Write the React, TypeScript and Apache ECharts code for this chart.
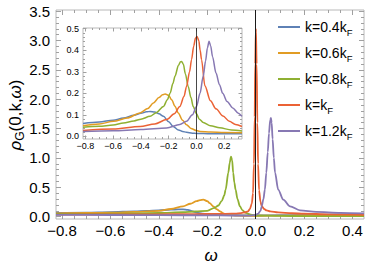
import React, { useEffect, useRef } from 'react';
import * as echarts from 'echarts';

const seriesNames = ['k=0.4kF', 'k=0.6kF', 'k=0.8kF', 'k=kF', 'k=1.2kF'];
const colors = ['#5E81B5', '#E19C24', '#8FB032', '#EB6235', '#8778B3'];

// ---- main plot data ----
const mainBlueX = [-0.8248, -0.7, -0.6, -0.5, -0.45, -0.4, -0.35, -0.32, -0.3, -0.28, -0.26, -0.244, -0.22, -0.2, -0.15, -0.1, -0.05, 0, 0.1, 0.2, 0.3, 0.4475];
const mainBlueY = [0.062, 0.07, 0.078, 0.09, 0.1, 0.108, 0.118, 0.123, 0.124, 0.115, 0.09, 0.068, 0.05, 0.04, 0.03, 0.025, 0.022, 0.02, 0.025, 0.03, 0.035, 0.04];

const mainOrangeX = [-0.8248, -0.7, -0.6, -0.5, -0.4, -0.35, -0.3, -0.27, -0.244, -0.23, -0.216, -0.2, -0.19, -0.175, -0.16, -0.147, -0.135, -0.125, -0.106, -0.08, -0.05, 0, 0.1, 0.2, 0.3, 0.4475];
const mainOrangeY = [0.055, 0.062, 0.068, 0.08, 0.1, 0.13, 0.176, 0.22, 0.265, 0.283, 0.29, 0.265, 0.23, 0.176, 0.125, 0.09, 0.06, 0.042, 0.025, 0.018, 0.015, 0.015, 0.018, 0.02, 0.022, 0.025];

const mainGreenX = [-0.8248, -0.7, -0.6, -0.5, -0.4, -0.3, -0.25, -0.2, -0.17, -0.154, -0.14, -0.13, -0.124, -0.113, -0.107, -0.102, -0.097, -0.093, -0.088, -0.083, -0.075, -0.065, -0.055, -0.041, -0.02, 0, 0.1, 0.2, 0.3, 0.4475];
const mainGreenY = [0.045, 0.048, 0.05, 0.055, 0.062, 0.075, 0.088, 0.1, 0.15, 0.19, 0.27, 0.36, 0.46, 0.75, 0.92, 1.02, 0.96, 0.75, 0.58, 0.46, 0.3, 0.176, 0.11, 0.063, 0.032, 0.02, 0.012, 0.01, 0.01, 0.01];

const mainRedX = [-0.8248, -0.6, -0.4, -0.3, -0.2, -0.15, -0.1, -0.085, -0.06, -0.045, -0.032, -0.024, -0.016, -0.011, -0.007, -0.004, -0.002, 0.001, 0.004, 0.007, 0.01, 0.014, 0.02, 0.025, 0.035, 0.045, 0.06, 0.093, 0.15, 0.2, 0.3, 0.4475];
const mainRedY = [0.035, 0.037, 0.04, 0.042, 0.045, 0.048, 0.05, 0.052, 0.06, 0.075, 0.09, 0.13, 0.22, 0.4, 0.9, 1.7, 2.6, 3.2, 2.6, 1.6, 0.9, 0.45, 0.25, 0.18, 0.13, 0.107, 0.09, 0.073, 0.058, 0.05, 0.04, 0.032];

const mainPurpleX = [-0.8248, -0.6, -0.4, -0.2, -0.1, -0.03, 0, 0.01, 0.02, 0.025, 0.032, 0.038, 0.044, 0.05, 0.055, 0.06, 0.063, 0.066, 0.07, 0.075, 0.08, 0.093, 0.114, 0.142, 0.183, 0.25, 0.35, 0.4475];
const mainPurpleY = [0.03, 0.028, 0.025, 0.022, 0.02, 0.017, 0.03, 0.05, 0.1, 0.176, 0.3, 0.46, 0.75, 1.1, 1.42, 1.65, 1.68, 1.6, 1.32, 1.0, 0.75, 0.46, 0.29, 0.176, 0.107, 0.08, 0.065, 0.055];

// ---- inset data ----
const insetBlueX = [-0.8165, -0.7, -0.6, -0.526, -0.45, -0.4, -0.36, -0.334, -0.3, -0.27, -0.238, -0.2, -0.168, -0.13, -0.1, -0.072, -0.03, 0, 0.1, 0.2, 0.327];
const insetBlueY = [0.06, 0.067, 0.075, 0.085, 0.098, 0.107, 0.114, 0.116, 0.113, 0.105, 0.093, 0.068, 0.046, 0.03, 0.023, 0.019, 0.015, 0.014, 0.012, 0.012, 0.012];

const insetOrangeX = [-0.8165, -0.7, -0.597, -0.5, -0.406, -0.35, -0.31, -0.27, -0.245, -0.226, -0.2, -0.179, -0.155, -0.132, -0.1, -0.072, -0.04, 0, 0.024, 0.1, 0.2, 0.327];
const insetOrangeY = [0.05, 0.058, 0.07, 0.085, 0.109, 0.13, 0.155, 0.18, 0.193, 0.197, 0.19, 0.17, 0.14, 0.109, 0.075, 0.054, 0.037, 0.027, 0.023, 0.02, 0.018, 0.017];

const insetGreenX = [-0.8165, -0.7, -0.6, -0.526, -0.45, -0.4, -0.334, -0.29, -0.238, -0.21, -0.19, -0.17, -0.155, -0.13, -0.115, -0.107, -0.095, -0.08, -0.06, -0.04, -0.024, 0, 0.02, 0.048, 0.1, 0.167, 0.25, 0.327];
const insetGreenY = [0.042, 0.047, 0.053, 0.062, 0.072, 0.08, 0.093, 0.11, 0.139, 0.17, 0.2, 0.245, 0.279, 0.33, 0.346, 0.348, 0.335, 0.29, 0.232, 0.18, 0.139, 0.105, 0.08, 0.065, 0.05, 0.04, 0.03, 0.025];

const insetRedX = [-0.8165, -0.6, -0.406, -0.3, -0.215, -0.16, -0.12, -0.09, -0.072, -0.05, -0.036, -0.02, -0.008, 0.004, 0.016, 0.026, 0.036, 0.06, 0.1, 0.14, 0.19, 0.236, 0.28, 0.327];
const insetRedY = [0.028, 0.034, 0.046, 0.058, 0.078, 0.105, 0.139, 0.185, 0.232, 0.3, 0.356, 0.42, 0.455, 0.464, 0.445, 0.4, 0.356, 0.235, 0.165, 0.128, 0.095, 0.07, 0.055, 0.046];

const insetPurpleX = [-0.8165, -0.6, -0.4, -0.215, -0.12, -0.072, -0.03, 0, 0.025, 0.048, 0.065, 0.078, 0.09, 0.102, 0.115, 0.14, 0.165, 0.188, 0.22, 0.26, 0.3, 0.327];
const insetPurpleY = [0.023, 0.026, 0.032, 0.039, 0.055, 0.07, 0.1, 0.139, 0.2, 0.279, 0.35, 0.41, 0.441, 0.42, 0.37, 0.294, 0.24, 0.2, 0.162, 0.132, 0.108, 0.093];

// ---- ticks ----
const mainXTicks = [-0.8, -0.6, -0.4, -0.2, 0, 0.2, 0.4];
const mainYTicks = [0, 0.5, 1, 1.5, 2, 2.5, 3, 3.5];
const insetXTicks = [-0.8, -0.6, -0.4, -0.2, 0, 0.2];
const insetYTicks = [0, 0.1, 0.2, 0.3, 0.4, 0.5];

const FONT = 'Liberation Sans';
const FRAME = '#b8b8b8';
const TICK = '#a0a0a0';

function steps(a: number, b: number, step: number) {
  const out: number[] = [];
  const n = Math.round((b - a) / step);
  for (let i = 0; i <= n; i++) out.push(+(a + i * step).toFixed(4));
  return out;
}

function fmt(v: number) {
  return (v < -1e-9 ? '\u2212' : '') + Math.abs(v).toFixed(1);
}

function xAxesFor(grid: number, min: number, max: number, ticks: number[], len: number, labels: boolean, fontSize: number, margin: number) {
  const base: any = { type: 'value', gridIndex: grid, min, max, axisLine: { show: false, onZero: false }, splitLine: { show: false } };
  const tick = { show: true, inside: true, length: len, lineStyle: { color: TICK, width: 1 }, customValues: ticks };
  return [
    { ...base, position: 'bottom', axisTick: tick, axisLabel: labels ? { show: true, customValues: ticks, formatter: fmt, fontSize, color: '#000', fontFamily: FONT, margin } : { show: false } },
    { ...base, position: 'top', axisTick: tick, axisLabel: { show: false } },
  ];
}
function yAxesFor(grid: number, min: number, max: number, ticks: number[], len: number, labels: boolean, fontSize: number, margin: number) {
  const base: any = { type: 'value', gridIndex: grid, min, max, axisLine: { show: false, onZero: false }, splitLine: { show: false } };
  const tick = { show: true, inside: true, length: len, lineStyle: { color: TICK, width: 1 }, customValues: ticks };
  return [
    { ...base, position: 'left', axisTick: tick, axisLabel: labels ? { show: true, customValues: ticks, formatter: fmt, fontSize, color: '#000', fontFamily: FONT, margin } : { show: false } },
    { ...base, position: 'right', axisTick: tick, axisLabel: { show: false } },
  ];
}

const MX = [-0.8248, 0.4475];
const MY = [-0.04, 3.52];
const IX = [-0.8165, 0.327];
const IY = [-0.012, 0.503];

export default function App() {
  const ref = useRef<HTMLDivElement>(null);
  useEffect(() => {
    if (!ref.current) return;
    const chart = echarts.init(ref.current, undefined, { renderer: 'svg' });
    const mainGrid = { left: 56, top: 10, width: 308, height: 209 };
    const insetGrid = { left: 83, top: 28, width: 159, height: 111 };
    const grid = [
      { ...mainGrid, show: true, borderColor: FRAME, borderWidth: 1, backgroundColor: 'transparent' },
      { ...mainGrid, show: false },
      { ...insetGrid, show: true, borderColor: FRAME, borderWidth: 1, backgroundColor: '#fff' },
      { ...insetGrid, show: false },
    ];
    const xAxis = [
      ...xAxesFor(0, MX[0], MX[1], mainXTicks, 5, true, 15, 4),
      ...xAxesFor(1, MX[0], MX[1], steps(-0.8, 0.4, 0.05), 3, false, 15, 4),
      ...xAxesFor(2, IX[0], IX[1], insetXTicks, 3.5, true, 9, 2),
      ...xAxesFor(3, IX[0], IX[1], steps(-0.8, 0.3, 0.05), 2, false, 9, 2),
    ];
    const yAxis = [
      ...yAxesFor(0, MY[0], MY[1], mainYTicks, 5, true, 15, 6),
      ...yAxesFor(1, MY[0], MY[1], steps(0, 3.5, 0.1), 3, false, 15, 6),
      ...yAxesFor(2, IY[0], IY[1], insetYTicks, 3.5, true, 9, 4),
      ...yAxesFor(3, IY[0], IY[1], steps(0, 0.5, 0.02), 2, false, 9, 4),
    ];
    const mainSets = [
      [mainBlueX, mainBlueY], [mainOrangeX, mainOrangeY], [mainGreenX, mainGreenY], [mainRedX, mainRedY], [mainPurpleX, mainPurpleY],
    ];
    const insetSets = [
      [insetBlueX, insetBlueY], [insetOrangeX, insetOrangeY], [insetGreenX, insetGreenY], [insetRedX, insetRedY], [insetPurpleX, insetPurpleY],
    ];
    const vline = (w: number) => ({
      silent: true, symbol: 'none', label: { show: false },
      lineStyle: { color: '#1a1a1a', width: w, type: 'solid' },
      data: [{ xAxis: 0 }],
    });
    const series: any[] = [];
    mainSets.forEach(([xs, ys], i) => {
      series.push({
        type: 'line', name: seriesNames[i], xAxisIndex: 0, yAxisIndex: 0,
        data: xs.map((x, j) => [x, ys[j]]),
        symbol: 'none', showSymbol: false, smooth: 0.3, smoothMonotone: 'x',
        lineStyle: { color: colors[i], width: 1.8 }, itemStyle: { color: colors[i] },
        ...(i === 0 ? { markLine: vline(1) } : {}),
      });
    });
    insetSets.forEach(([xs, ys], i) => {
      series.push({
        type: 'line', name: seriesNames[i], xAxisIndex: 4, yAxisIndex: 4,
        data: xs.map((x, j) => [x, ys[j]]),
        symbol: 'none', showSymbol: false, smooth: 0.3, smoothMonotone: 'x',
        lineStyle: { color: colors[i], width: 1.5 }, itemStyle: { color: colors[i] },
        ...(i === 0 ? { markLine: vline(0.8) } : {}),
      });
    });
    chart.setOption({
      animation: false,
      grid, xAxis, yAxis, series,
      legend: {
        orient: 'vertical', left: 278, top: 20, padding: 0,
        icon: 'rect', itemWidth: 22, itemHeight: 2, itemGap: 9,
        data: seriesNames,
        formatter: (name: string) => `{a|${name.slice(0, -1)}}{b|F}`,
        textStyle: {
          color: '#000', fontFamily: FONT, fontSize: 14,
          rich: {
            a: { fontSize: 14, lineHeight: 20, fontFamily: FONT, color: '#000' },
            b: { fontSize: 9.5, lineHeight: 13, verticalAlign: 'bottom', fontFamily: FONT, color: '#000' },
          },
        },
      },
      graphic: [
        {
          type: 'text', x: 15, y: 115, rotation: Math.PI / 2,
          style: {
            text: '{i|\u03C1}{s|G}{n|(0,k,}{i|\u03C9}{n|)}',
            align: 'center', verticalAlign: 'middle', fill: '#000',
            rich: {
              i: { fontSize: 17, fontStyle: 'italic', fontFamily: FONT, lineHeight: 22, fill: '#000' },
              n: { fontSize: 17, fontFamily: FONT, lineHeight: 22, fill: '#000' },
              s: { fontSize: 12, fontFamily: FONT, lineHeight: 15, verticalAlign: 'bottom', fill: '#000' },
            },
          },
        },
        {
          type: 'text', x: 211, y: 255,
          style: { text: '\u03C9', fontSize: 17, fontStyle: 'italic', fontFamily: FONT, fill: '#000', align: 'center', verticalAlign: 'middle' },
        },
      ],
    });
    return () => chart.dispose();
  }, []);
  return <div ref={ref} style={{ position: 'absolute', left: 0, top: 0, width: 366, height: 271 }} />;
}
